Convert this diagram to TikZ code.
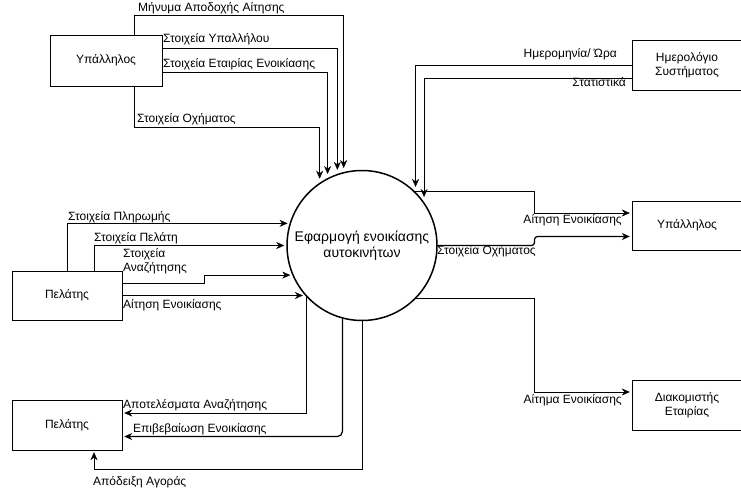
\documentclass[tikz,border=0pt]{standalone}
\usepackage{fontspec}
\setmainfont{Liberation Sans}
\usetikzlibrary{arrows.meta}

\begin{document}
\begin{tikzpicture}[x=1pt,y=1pt]
            \tikzset{entity/.style = {shape=rectangle, draw, minimum width=110pt, minimum height=50pt, align=center, font=\fontsize{12}{14}\selectfont}}
            \tikzset{process/.style = {shape=circle, draw, line width=1.5pt, minimum size=150pt, inner sep=0pt, align=center, font=\fontsize{14}{16}\selectfont}}
            \tikzset{flow/.style = {draw, -{Stealth[length=8pt,width=7pt]}, shorten >=2pt}}
            \tikzset{bent/.style = {flow, line width=1.25pt}}
            \tikzset{lbl/.style = {inner sep=0pt, text height=9pt, text depth=3pt, font=\fontsize{12}{13.5}\selectfont}}
            \useasboundingbox (0,0) rectangle (741,491);
            % vertices
            \node[process] (p) at (362,245.5) {Εφαρμογή ενοικίασης\\αυτοκινήτων};
            \node[entity, minimum width=112pt, minimum height=51pt] (u1) at (106,430.5) {Υπάλληλος};
            \node[entity] (c) at (687,426) {Ημερολόγιο\\Συστήματος};
            \node[entity, minimum height=49pt] (e2) at (687,265.5) {Υπάλληλος};
            \node[entity] (s) at (687,86) {Διακομιστής\\Εταιρίας};
            \node[entity, minimum height=49pt] (c1) at (67,195.5) {Πελάτης};
            \node[entity] (c2) at (67,66) {Πελάτης};
            \coordinate (bus) at (534.5,0);
            % edges
            \draw[flow, shorten >=4pt] ([xshift=28pt]u1.north) -- ++(0,20) -| (p.104.7);
            \draw[flow, shorten >=4pt] ([yshift=12.5pt]u1.east) -| (p.109.5);
            \draw[flow, shorten >=4pt] ([yshift=-11.5pt]u1.east) -| (p.117);
            \draw[flow, shorten >=4pt] ([xshift=28pt]u1.south) -- ++(0,-41) -| (p.124);
            \draw[flow, shorten >=5pt] (c.west) -| (p.45);
            \draw[flow, shorten >=5pt] ([yshift=-13pt]c.west) -| (p.35.6);
            \draw[flow] (p.46) -- (p.46 -| bus) |- ([yshift=12.5pt]e2.west);
            \draw[bent, rounded corners=3pt] (p.east) -- (p.east -| bus) |- ([yshift=-11pt]e2.west);
            \draw[flow] (p.-44) -- (p.-44 -| bus) |- ([yshift=13pt]s.west);
            \draw[flow] (c1.north) |- (p.163.7);
            \draw[flow] ([xshift=27pt]c1.north) |- (p.west);
            \draw[flow] ([yshift=12.5pt]c1.east) -- ++(82,0) |- (p.203.6);
            \draw[flow] (c1.east) -- (c1.east -| p.221.3);
            \draw[flow] (p.223.9) |- ([yshift=12pt]c2.east);
            \draw[bent, rounded corners=5pt] (p.255.1) |- ([yshift=-11.5pt]c2.east);
            \draw[flow] (p.south) -- ++(0,-148) -| ([xshift=27pt]c2.south);
            % labels
            \node[lbl, anchor=west] (t1) at (138,482) {Μήνυμα Αποδοχής Αίτησης};
            \node[lbl, anchor=west] (t2) at (163,451) {Στοιχεία Υπαλλήλου};
            \node[lbl, anchor=west] (t3) at (163,426) {Στοιχεία Εταιρίας Ενοικίασης};
            \node[lbl, anchor=west] (t4) at (137,372) {Στοιχεία Οχήματος};
            \node[lbl, anchor=east] (t5) at (617,436) {Ημερομηνία/ Ώρα};
            \node[lbl, anchor=east] (t6) at (626,407) {Στατιστικά};
            \node[lbl, anchor=west] (t7) at (68,274) {Στοιχεία Πληρωμής};
            \node[lbl, anchor=west] (t8) at (94,253) {Στοιχεία Πελάτη};
            \node[lbl, anchor=west, align=left] (t9) at (123,223) {Στοιχεία\\Αναζήτησης};
            \node[lbl, anchor=west] (t10) at (123,186) {Αίτηση Ενοικίασης};
            \node[lbl, anchor=east] (t11) at (622,271) {Αίτηση Ενοικίασης};
            \node[lbl, anchor=west] (t12) at (437,240) {Στοιχεία Οχήματος};
            \node[lbl, anchor=east] (t13) at (622,91) {Αίτημα Ενοικίασης};
            \node[lbl, anchor=west] (t14) at (123,86) {Αποτελέσματα Αναζήτησης};
            \node[lbl, anchor=west] (t15) at (133,62) {Επιβεβαίωση Ενοικίασης};
            \node[lbl, anchor=west] (t16) at (93,9) {Απόδειξη Αγοράς};
        \end{tikzpicture}
\end{document}
